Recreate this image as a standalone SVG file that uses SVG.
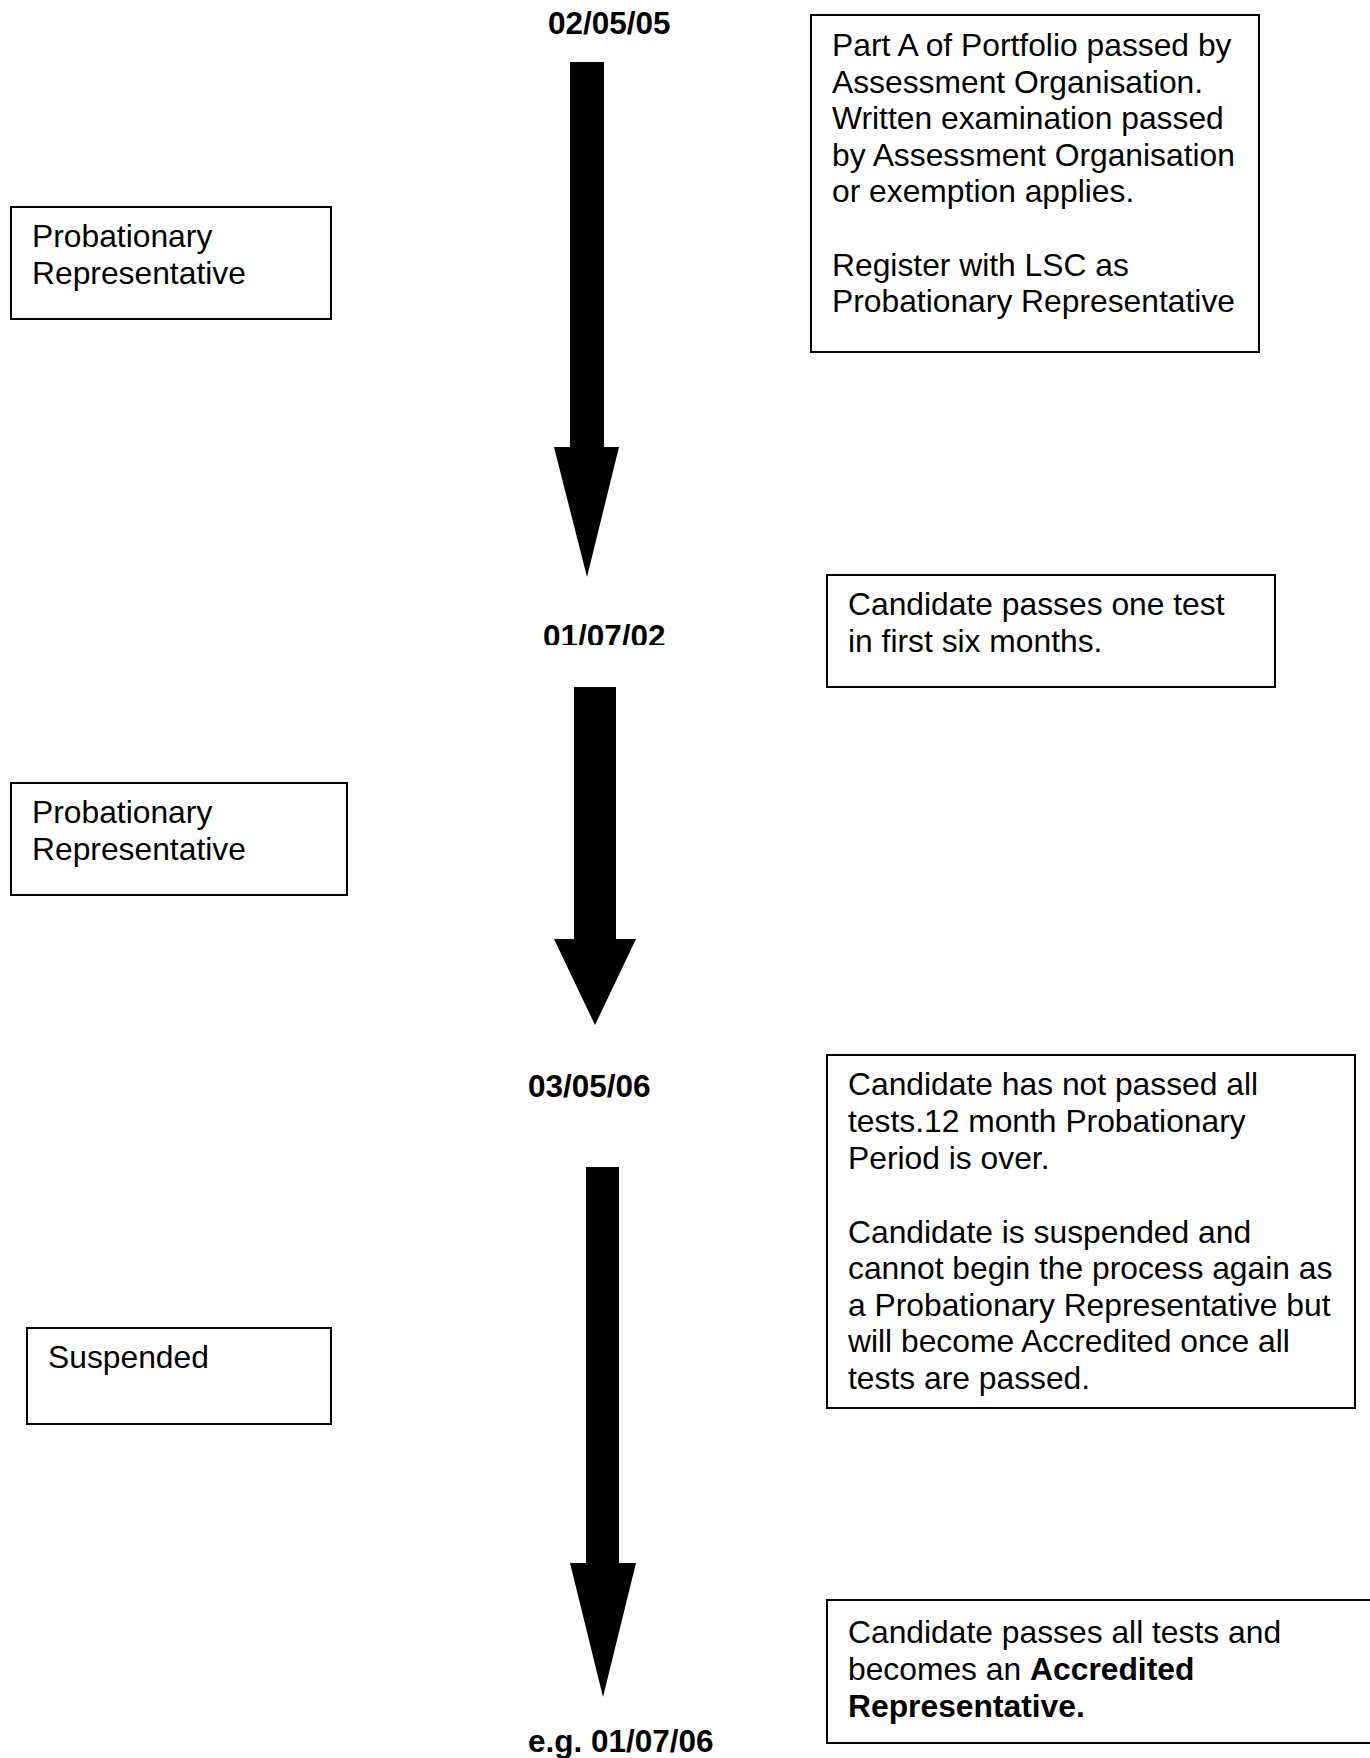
<svg xmlns="http://www.w3.org/2000/svg" width="1370" height="1758" viewBox="0 0 1370 1758">
<style>
.box{fill:#fff;stroke:#000;stroke-width:2}
.t{font-family:"Liberation Sans",Arial,sans-serif;font-size:31.8px;fill:#000}
.d{font-family:"Liberation Sans",Arial,sans-serif;font-size:31.5px;font-weight:bold;fill:#000}
.b{font-weight:bold}
.arrow{fill:#000;stroke:none}
</style>
<defs>
<clipPath id="clipDate2"><rect x="500" y="600" width="220" height="45"/></clipPath>
</defs>
<rect width="1370" height="1758" fill="#fff"/>

<g id="connectors">
<polygon class="arrow" points="570,62 604,62 604,447 619,447 587,577 554,447 570,447"/>
<polygon class="arrow" points="574,687 616,687 616,939 636,939 595,1025 554,939 574,939"/>
<polygon class="arrow" points="586,1167 619,1167 619,1563 636,1563 603,1697 570,1563 586,1563"/>
</g>

<g id="date1"><text class="d" x="548" y="34">02/05/05</text></g>
<g id="date2" clip-path="url(#clipDate2)"><text class="d" x="543" y="647">01/07/02</text></g>
<g id="date3"><text class="d" x="528" y="1097">03/05/06</text></g>
<g id="date4"><text class="d" x="528" y="1752">e.g. 01/07/06</text></g>

<g id="box-part-a">
<rect class="box" x="811" y="15" width="448" height="337"/>
<text class="t">
<tspan x="832" y="56">Part A of Portfolio passed by</tspan>
<tspan x="832" y="92.6">Assessment Organisation.</tspan>
<tspan x="832" y="129.2">Written examination passed</tspan>
<tspan x="832" y="165.8">by Assessment Organisation</tspan>
<tspan x="832" y="202.4">or exemption applies.</tspan>
<tspan x="832" y="275.6">Register with LSC as</tspan>
<tspan x="832" y="312.2">Probationary Representative</tspan>
</text>
</g>

<g id="status-1">
<rect class="box" x="11" y="207" width="320" height="112"/>
<text class="t"><tspan x="32" y="247">Probationary</tspan><tspan x="32" y="284">Representative</tspan></text>
</g>

<g id="box-one-test">
<rect class="box" x="827" y="575" width="448" height="112"/>
<text class="t"><tspan x="848" y="615">Candidate passes one test</tspan><tspan x="848" y="651.7">in first six months.</tspan></text>
</g>

<g id="status-2">
<rect class="box" x="11" y="783" width="336" height="112"/>
<text class="t"><tspan x="32" y="823">Probationary</tspan><tspan x="32" y="860">Representative</tspan></text>
</g>

<g id="box-not-passed">
<rect class="box" x="827" y="1055" width="528" height="353"/>
<text class="t">
<tspan x="848" y="1095">Candidate has not passed all</tspan>
<tspan x="848" y="1131.8">tests.12 month Probationary</tspan>
<tspan x="848" y="1168.6">Period is over.</tspan>
<tspan x="848" y="1242.6">Candidate is suspended and</tspan>
<tspan x="848" y="1279.2">cannot begin the process again as</tspan>
<tspan x="848" y="1315.8">a Probationary Representative but</tspan>
<tspan x="848" y="1352.4">will become Accredited once all</tspan>
<tspan x="848" y="1389">tests are passed.</tspan>
</text>
</g>

<g id="status-3">
<rect class="box" x="27" y="1328" width="304" height="96"/>
<text class="t" x="48" y="1368">Suspended</text>
</g>

<g id="box-accredited">
<rect class="box" x="827" y="1600" width="560" height="143"/>
<text class="t">
<tspan x="848" y="1643.3">Candidate passes all tests and</tspan>
<tspan x="848" y="1680">becomes an <tspan class="b">Accredited</tspan></tspan>
<tspan x="848" y="1716.7" class="b">Representative.</tspan>
</text>
</g>
</svg>
